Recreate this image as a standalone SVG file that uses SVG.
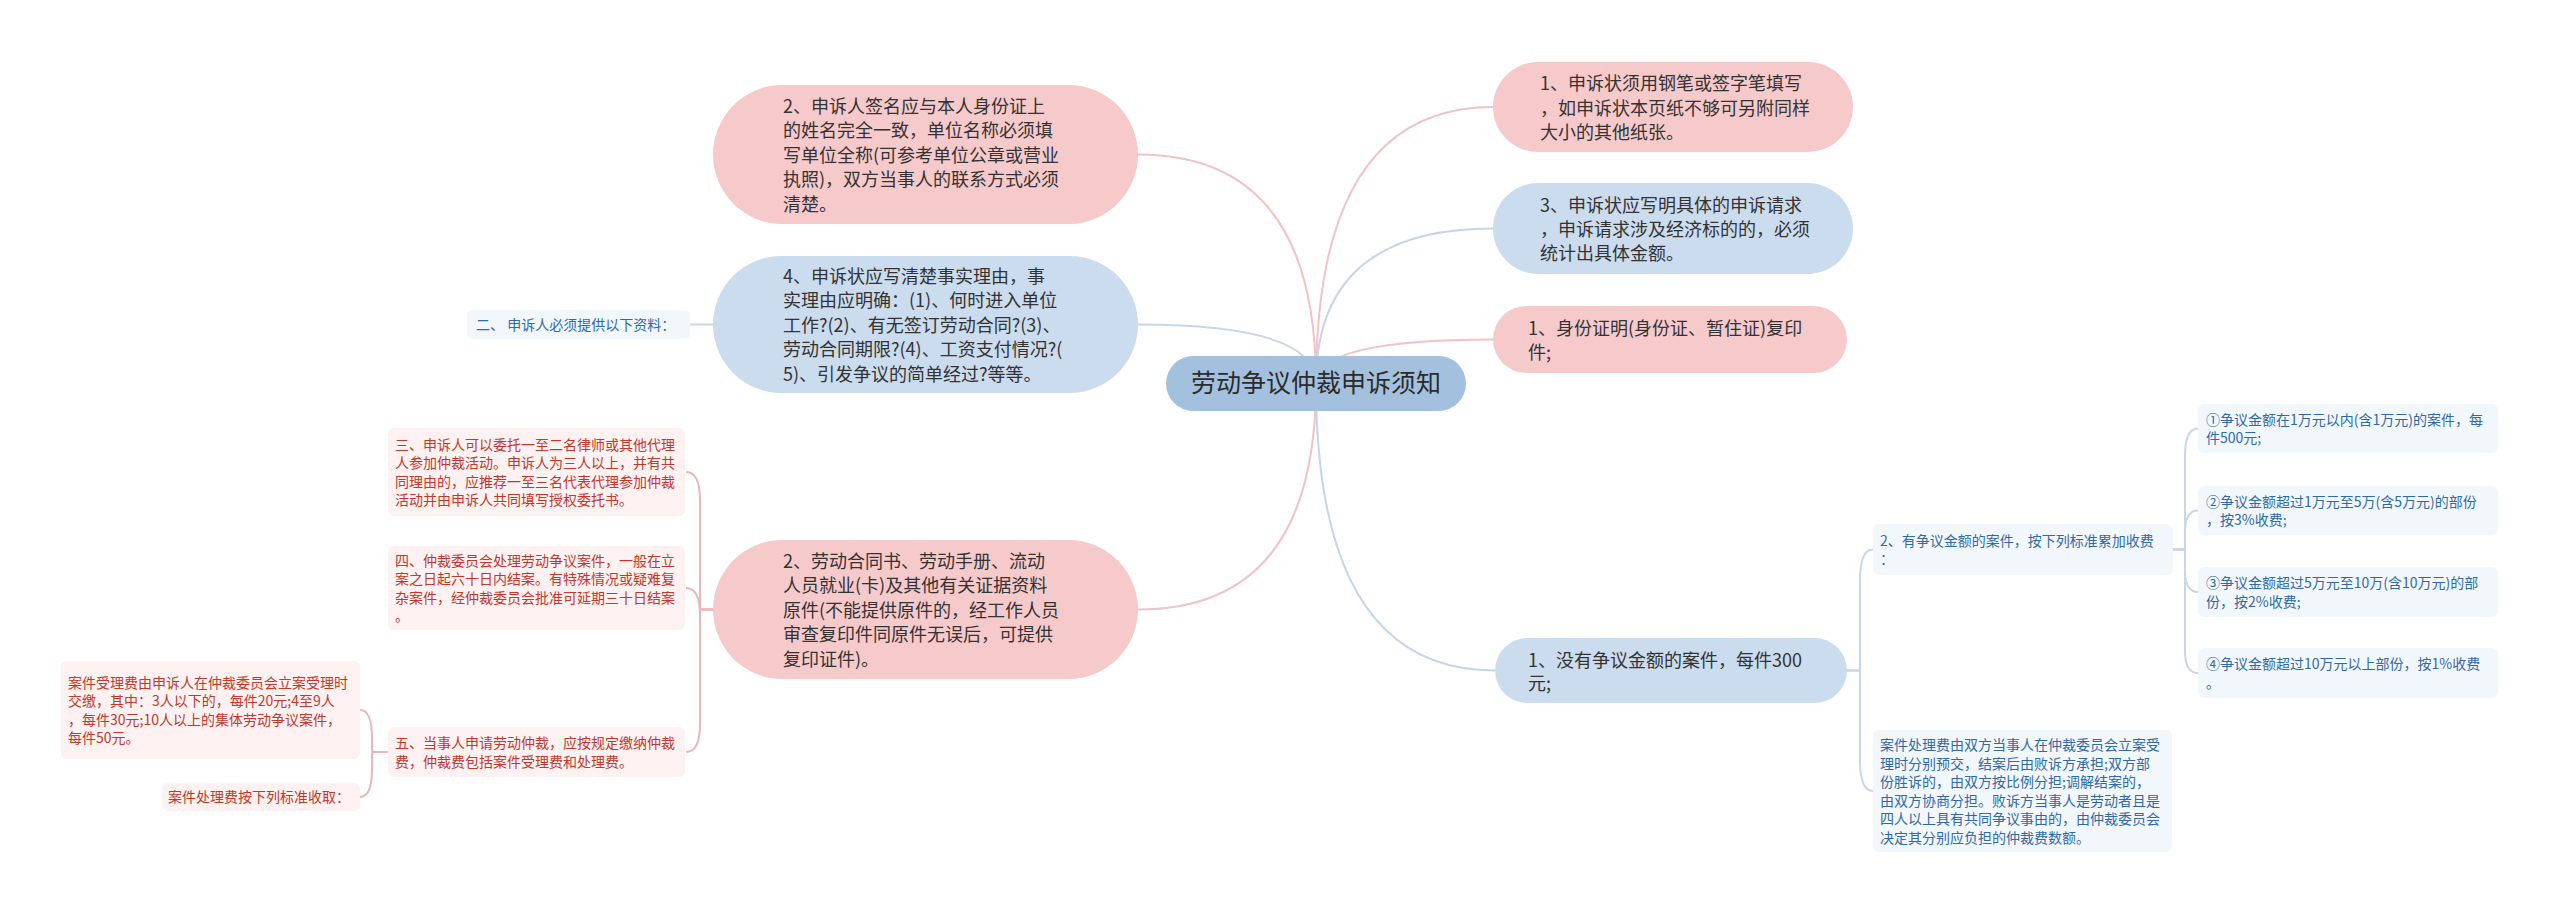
<svg xmlns="http://www.w3.org/2000/svg" width="2560" height="915" viewBox="0 0 2560 915">
<style>
text{font-family:"Noto Sans CJK SC","Noto Sans",sans-serif;}
.big{font-size:18px;fill:#333333;}
.sr{font-size:14px;fill:#c0392b;}
.sb{font-size:14px;fill:#2f6aa8;}
.pink{fill:#f6c9cb;}
.blue{fill:#cadcee;}
.lr{fill:#fdf1f1;}
.lb{fill:#f2f7fc;}
.cp{fill:none;stroke:#f0c3c6;stroke-width:2;}
.cb{fill:none;stroke:#c5d6e9;stroke-width:2;}
.bp{fill:none;stroke:#e6b8bb;stroke-width:2;}
.bb{fill:none;stroke:#c8d6e5;stroke-width:2;}
</style>
<rect width="2560" height="915" fill="#ffffff"/>
<g id="connectors">
<path class="cp" d="M1316 383 Q1316 107 1493 107"/>
<path class="cb" d="M1316 383 Q1316 228.5 1493 228.5"/>
<path class="cp" d="M1316 383 Q1316 339.5 1493 339.5"/>
<path class="cb" d="M1316 383 Q1316 670.5 1495 670.5"/>
<path class="cp" d="M1316 383 Q1316 154.5 1138 154.5"/>
<path class="cb" d="M1316 383 Q1316 324.5 1138 324.5"/>
<path class="cp" d="M1316 383 Q1316 609.5 1138 609.5"/>
<path class="bb" d="M713 324.5 H690"/>
<path class="bp" d="M713 609.5 H700 V500 Q700 472 686 472"/>
<path class="bp" d="M713 609.5 H700 V616 Q700 588 686 588"/>
<path class="bp" d="M713 609.5 H700 V724 Q700 752 686 752"/>
<path class="bp" d="M388 752 H372 V738 Q372 710 360 710"/>
<path class="bp" d="M388 752 H372 V769 Q372 797 360 797"/>
<path class="bb" d="M1847 670.5 H1860 V580 Q1860 549.5 1873 549.5"/>
<path class="bb" d="M1847 670.5 H1860 V760 Q1860 791 1873 791"/>
<path class="bb" d="M2173 549.5 H2185 V456 Q2185 428.5 2198 428.5"/>
<path class="bb" d="M2173 549.5 H2185 V532 Q2185 510.5 2198 510.5"/>
<path class="bb" d="M2173 549.5 H2185 V570 Q2185 592 2198 592"/>
<path class="bb" d="M2173 549.5 H2185 V651 Q2185 673 2198 673"/>
</g>
<g id="root">
<rect x="1166" y="356" width="300" height="55" rx="27.5" fill="#a3c1de"/>
<text x="1316" y="392" text-anchor="middle" style="font-size:25px;fill:#2b2b2b">劳动争议仲裁申诉须知</text>
</g>
<g id="n-left-top">
<rect class="pink" x="713" y="85" width="425" height="139" rx="69.5"/>
<text class="big" x="783" y="112.5">2、申诉人签名应与本人身份证上</text>
<text class="big" x="783" y="137">的姓名完全一致，单位名称必须填</text>
<text class="big" x="783" y="161.5">写单位全称(可参考单位公章或营业</text>
<text class="big" x="783" y="186">执照)，双方当事人的联系方式必须</text>
<text class="big" x="783" y="210.5">清楚。</text>
</g>
<g id="n-left-4">
<rect class="blue" x="713" y="256" width="425" height="137" rx="68.5"/>
<text class="big" x="783" y="282.5">4、申诉状应写清楚事实理由，事</text>
<text class="big" x="783" y="307">实理由应明确：(1)、何时进入单位</text>
<text class="big" x="783" y="331.5">工作?(2)、有无签订劳动合同?(3)、</text>
<text class="big" x="783" y="356">劳动合同期限?(4)、工资支付情况?(</text>
<text class="big" x="783" y="380.5">5)、引发争议的简单经过?等等。</text>
</g>
<g id="n-label-2">
<rect class="lb" x="467" y="310" width="223" height="29" rx="5"/>
<text class="sb" x="476" y="329.5">二、 申诉人必须提供以下资料：</text>
</g>
<g id="n-left-2b">
<rect class="pink" x="713" y="540" width="425" height="139" rx="69.5"/>
<text class="big" x="783" y="567.5">2、劳动合同书、劳动手册、流动</text>
<text class="big" x="783" y="592">人员就业(卡)及其他有关证据资料</text>
<text class="big" x="783" y="616.5">原件(不能提供原件的，经工作人员</text>
<text class="big" x="783" y="641">审查复印件同原件无误后，可提供</text>
<text class="big" x="783" y="665.5">复印证件)。</text>
</g>
<g id="n-san">
<rect class="lr" x="388" y="428" width="297" height="88" rx="6"/>
<text class="sr" x="395" y="449.5">三、申诉人可以委托一至二名律师或其他代理</text>
<text class="sr" x="395" y="468">人参加仲裁活动。申诉人为三人以上，并有共</text>
<text class="sr" x="395" y="486.5">同理由的，应推荐一至三名代表代理参加仲裁</text>
<text class="sr" x="395" y="505">活动并由申诉人共同填写授权委托书。</text>
</g>
<g id="n-si">
<rect class="lr" x="388" y="546" width="297" height="84" rx="6"/>
<text class="sr" x="395" y="565.5">四、仲裁委员会处理劳动争议案件，一般在立</text>
<text class="sr" x="395" y="584">案之日起六十日内结案。有特殊情况或疑难复</text>
<text class="sr" x="395" y="602.5">杂案件，经仲裁委员会批准可延期三十日结案</text>
<text class="sr" x="395" y="621">。</text>
</g>
<g id="n-wu">
<rect class="lr" x="388" y="727" width="297" height="50" rx="6"/>
<text class="sr" x="395" y="748">五、当事人申请劳动仲裁，应按规定缴纳仲裁</text>
<text class="sr" x="395" y="766.5">费，仲裁费包括案件受理费和处理费。</text>
</g>
<g id="n-shouli">
<rect class="lr" x="61" y="661" width="299" height="98" rx="6"/>
<text class="sr" x="68" y="687.5">案件受理费由申诉人在仲裁委员会立案受理时</text>
<text class="sr" x="68" y="706">交缴，其中：3人以下的，每件20元;4至9人</text>
<text class="sr" x="68" y="724.5">，每件30元;10人以上的集体劳动争议案件，</text>
<text class="sr" x="68" y="743">每件50元。</text>
</g>
<g id="n-chuli">
<rect class="lr" x="162" y="783" width="198" height="28" rx="6"/>
<text class="sr" x="168" y="802">案件处理费按下列标准收取：</text>
</g>
<g id="n-r1">
<rect class="pink" x="1493" y="62" width="360" height="90" rx="45"/>
<text class="big" x="1540" y="90">1、申诉状须用钢笔或签字笔填写</text>
<text class="big" x="1540" y="114.5">，如申诉状本页纸不够可另附同样</text>
<text class="big" x="1540" y="139">大小的其他纸张。</text>
</g>
<g id="n-r3">
<rect class="blue" x="1493" y="183" width="360" height="91" rx="45.5"/>
<text class="big" x="1540" y="212">3、申诉状应写明具体的申诉请求</text>
<text class="big" x="1540" y="236">，申诉请求涉及经济标的的，必须</text>
<text class="big" x="1540" y="260">统计出具体金额。</text>
</g>
<g id="n-rid">
<rect class="pink" x="1493" y="306" width="354" height="67" rx="33.5"/>
<text class="big" x="1528" y="335">1、身份证明(身份证、暂住证)复印</text>
<text class="big" x="1528" y="359">件;</text>
</g>
<g id="n-rnone">
<rect class="blue" x="1495" y="638" width="352" height="65" rx="32.5"/>
<text class="big" x="1528" y="667">1、没有争议金额的案件，每件300</text>
<text class="big" x="1528" y="690">元;</text>
</g>
<g id="n-has">
<rect class="lb" x="1873" y="524" width="300" height="51" rx="6"/>
<text class="sb" x="1880" y="545.5">2、有争议金额的案件，按下列标准累加收费</text>
<text class="sb" x="1880" y="564">：</text>
</g>
<g id="n-proc">
<rect class="lb" x="1873" y="730" width="299" height="122" rx="6"/>
<text class="sb" x="1880" y="750">案件处理费由双方当事人在仲裁委员会立案受</text>
<text class="sb" x="1880" y="768.5">理时分别预交，结案后由败诉方承担;双方部</text>
<text class="sb" x="1880" y="787">份胜诉的，由双方按比例分担;调解结案的，</text>
<text class="sb" x="1880" y="805.5">由双方协商分担。败诉方当事人是劳动者且是</text>
<text class="sb" x="1880" y="824">四人以上具有共同争议事由的，由仲裁委员会</text>
<text class="sb" x="1880" y="842.5">决定其分别应负担的仲裁费数额。</text>
</g>
<g id="n-f1">
<rect class="lb" x="2198" y="404" width="300" height="49" rx="6"/>
<text class="sb" x="2206" y="424.5">①争议金额在1万元以内(含1万元)的案件，每</text>
<text class="sb" x="2206" y="443">件500元;</text>
</g>
<g id="n-f2">
<rect class="lb" x="2198" y="486" width="300" height="49" rx="6"/>
<text class="sb" x="2206" y="506.5">②争议金额超过1万元至5万(含5万元)的部份</text>
<text class="sb" x="2206" y="525">，按3%收费;</text>
</g>
<g id="n-f3">
<rect class="lb" x="2198" y="567" width="300" height="50" rx="6"/>
<text class="sb" x="2206" y="588">③争议金额超过5万元至10万(含10万元)的部</text>
<text class="sb" x="2206" y="606.5">份，按2%收费;</text>
</g>
<g id="n-f4">
<rect class="lb" x="2198" y="648" width="300" height="50" rx="6"/>
<text class="sb" x="2206" y="669">④争议金额超过10万元以上部份，按1%收费</text>
<text class="sb" x="2206" y="687.5">。</text>
</g>
</svg>
